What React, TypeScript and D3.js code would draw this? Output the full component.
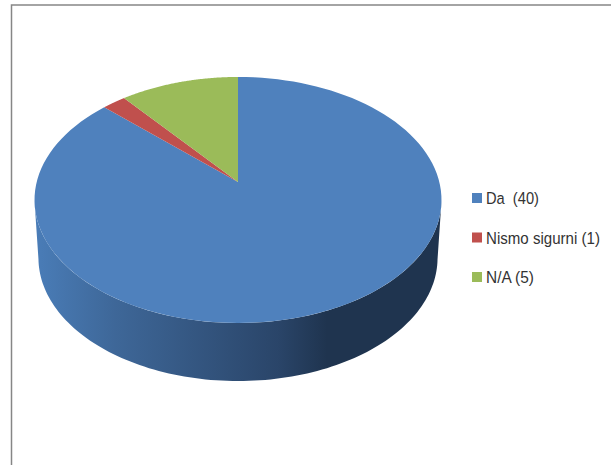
import { useEffect, useRef } from "react";
import * as d3 from "d3";

const labels = ["Da  (40)", "Nismo sigurni (1)", "N/A (5)"];
const labelWidths = [53, 114, 48];
const values = [40, 1, 5];
const colors = ["#4f81bd", "#c0504d", "#9bbb59"];

const width = 611;
const height = 465;

type Ring = { cx: number; cy: number; k: number; q: number; p: number };

// tilted pie: a circle seen in perspective, so the hub sits above the ellipse middle
const topRing: Ring = { cx: 238, cy: 182, k: 201.3, q: 120.4, p: -0.1463 };
const bottomRing: Ring = { cx: 238, cy: 240, k: 197.4, q: 120.4, p: -0.1463 };

function project(ring: Ring, angle: number): [number, number] {
  const u = Math.sin(angle);
  const v = -Math.cos(angle);
  const w = 1 + ring.p * v;
  return [ring.cx + (ring.k * u) / w, ring.cy + (ring.q * v) / w];
}

function arcPoints(ring: Ring, start: number, end: number): [number, number][] {
  return d3
    .range(0, 121)
    .map((i) => project(ring, start + ((end - start) * i) / 120));
}

export default function App() {
  const ref = useRef<SVGSVGElement>(null);

  useEffect(() => {
    const svg = d3.select(ref.current);
    svg.selectAll("*").remove();

    const line = d3.line();

    svg
      .append("rect")
      .attr("x", 11.5)
      .attr("y", 5)
      .attr("width", width + 20)
      .attr("height", height + 20)
      .attr("fill", "#fff")
      .attr("stroke", "#868686")
      .attr("stroke-width", 1.5);

    const gradient = svg
      .append("defs")
      .append("linearGradient")
      .attr("id", "side")
      .attr("gradientUnits", "userSpaceOnUse")
      .attr("x1", 34)
      .attr("x2", 441)
      .attr("y1", 0)
      .attr("y2", 0);
    [
      ["0", "#4a7db8"],
      ["0.2", "#3e6798"],
      ["0.6", "#2a4569"],
      ["0.72", "#1f344f"],
      ["1", "#1f344f"],
    ].forEach(([offset, color]) => {
      gradient.append("stop").attr("offset", offset).attr("stop-color", color);
    });

    // side wall: the lower half of the bottom ring, closed along the top ring
    const wall = [
      ...arcPoints(bottomRing, Math.PI * 0.55, Math.PI * 1.45),
      ...arcPoints(topRing, Math.PI * 1.45, Math.PI * 0.55),
    ];
    svg
      .append("path")
      .attr("d", line(wall) + "Z")
      .attr("fill", "url(#side)");

    const pie = d3
      .pie<number>()
      .sort(null)
      .value((d) => d);

    svg
      .append("g")
      .selectAll("path")
      .data(pie(values))
      .join("path")
      .attr(
        "d",
        (d) =>
          line([
            [topRing.cx, topRing.cy],
            ...arcPoints(topRing, d.startAngle, d.endAngle),
          ]) + "Z",
      )
      .attr("fill", (_, i) => colors[i]);

    const legendY = d3
      .scalePoint<string>()
      .domain(labels)
      .range([198, 277]);

    const legend = svg
      .append("g")
      .selectAll("g")
      .data(labels)
      .join("g")
      .attr("transform", (d) => `translate(472,${legendY(d)})`);

    legend
      .append("rect")
      .attr("y", -5)
      .attr("width", 10)
      .attr("height", 10)
      .attr("fill", (_, i) => colors[i]);

    // the original face is narrower than anything installed, so squeeze to the read width
    legend
      .append("text")
      .attr("font-family", "'Liberation Sans', sans-serif")
      .attr("font-size", 17)
      .attr("fill", "#333")
      .style("white-space", "pre")
      .text((d) => d)
      .attr("transform", function (_, i) {
        const natural = (this as SVGTextElement).getComputedTextLength();
        return `translate(14,6) scale(${labelWidths[i] / natural},1)`;
      });
  }, []);

  return (
    <svg
      ref={ref}
      width={width}
      height={height}
      style={{ position: "fixed", left: 0, top: 0, display: "block" }}
    />
  );
}
